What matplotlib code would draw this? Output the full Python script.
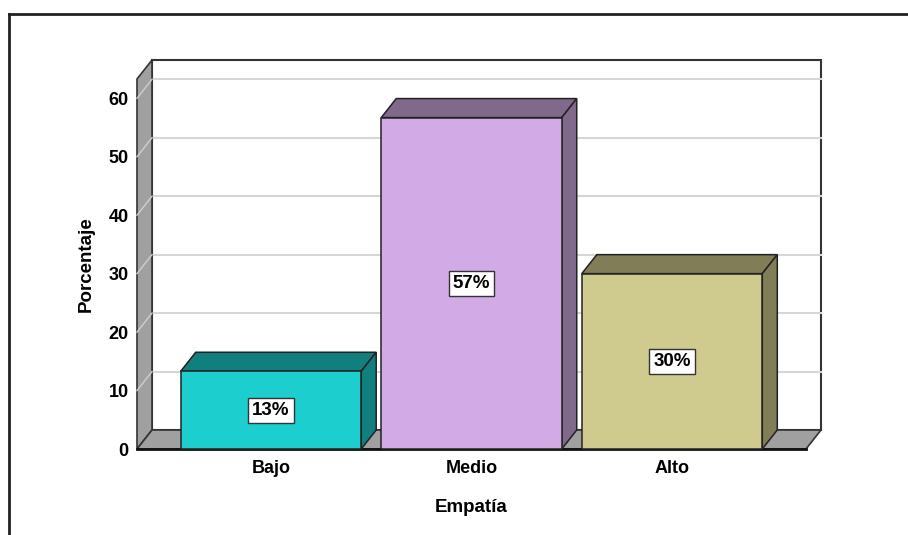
import matplotlib
matplotlib.use("Agg")
import matplotlib.pyplot as plt
from matplotlib.patches import Polygon, Rectangle
from matplotlib.lines import Line2D

plt.rcParams['font.family'] = ['Liberation Sans', 'DejaVu Sans']
plt.rcParams['font.weight'] = 'bold'

# ---- data ----
categories = ['Bajo', 'Medio', 'Alto']
values = [13.3, 56.7, 30.0]
labels = ['13%', '57%', '30%']
yticks = [0, 10, 20, 30, 40, 50, 60]
xlabel = 'Empatía'
ylabel = 'Porcentaje'

front_colors = ['#1ccece', '#d2aae6', '#cfca8e']
dark_colors = ['#127f7f', '#806a8c', '#807d57']
wall_color = '#a0a0a0'
edge = '#222222'

W, H = 908, 535
fig = plt.figure(figsize=(W / 100, H / 100), dpi=100)
ax = fig.add_axes([137 / W, (H - 449) / H, 669 / W, 370 / H])

xmin, xmax = -0.668, 2.668
ymax = 63.3
ax.set_xlim(xmin, xmax)
ax.set_ylim(0, ymax)

# depth offset in data units (approx 15 px right, 19 px up)
dx = 15 / (669 / (xmax - xmin))
dy = 19 / (370 / ymax)

for s in ax.spines.values():
    s.set_visible(False)
ax.patch.set_visible(False)

# back wall
ax.add_patch(Rectangle((xmin + dx, dy), xmax - xmin, ymax, facecolor='white',
                       edgecolor='#333333', lw=1.5, clip_on=False, zorder=1))
# gridlines on back wall
for v in yticks[1:]:
    ax.plot([xmin + dx, xmax + dx], [v + dy, v + dy], color='#d6d6d6', lw=1.5,
            clip_on=False, zorder=1.5)
# left wall
ax.add_patch(Polygon([(xmin, 0), (xmin, ymax), (xmin + dx, ymax + dy), (xmin + dx, dy)],
                     closed=True, facecolor=wall_color, edgecolor='#333333', lw=1.2,
                     clip_on=False, zorder=2))
for v in yticks[1:]:
    ax.plot([xmin, xmin + dx], [v, v + dy], color='#cfcfcf', lw=1.0,
            clip_on=False, zorder=2.5)
# floor
ax.add_patch(Polygon([(xmin, 0), (xmax, 0), (xmax + dx, dy), (xmin + dx, dy)],
                     closed=True, facecolor=wall_color, edgecolor='#333333', lw=1.2,
                     clip_on=False, zorder=2))
ax.plot([xmin, xmax], [0, 0], color='#111111', lw=2, clip_on=False, zorder=2.6)

# bars
bw = 0.9
for i, (v, fc, dc, lab) in enumerate(zip(values, front_colors, dark_colors, labels)):
    x0, x1 = i - bw / 2, i + bw / 2
    ax.add_patch(Polygon([(x0, v), (x1, v), (x1 + dx, v + dy), (x0 + dx, v + dy)],
                         closed=True, facecolor=dc, edgecolor=edge, lw=1.1,
                         clip_on=False, zorder=3))
    ax.add_patch(Polygon([(x1, 0), (x1, v), (x1 + dx, v + dy), (x1 + dx, dy)],
                         closed=True, facecolor=dc, edgecolor=edge, lw=1.1,
                         clip_on=False, zorder=3))
    ax.add_patch(Rectangle((x0, 0), bw, v, facecolor=fc, edgecolor=edge, lw=1.1,
                           clip_on=False, zorder=4))
    ax.text(i, v / 2, lab, ha='center', va='center', fontsize=13.5, fontweight='bold',
            zorder=5,
            bbox=dict(boxstyle='square,pad=0.22', facecolor='white', edgecolor='#333333', lw=1))

ax.set_xticks(range(len(categories)))
ax.set_xticklabels(categories, fontsize=13, fontweight='bold')
ax.set_yticks(yticks)
ax.set_yticklabels([str(t) for t in yticks], fontsize=13, fontweight='bold')
ax.tick_params(axis='both', length=0)
ax.tick_params(axis='y', pad=6)
ax.tick_params(axis='x', pad=8)
ax.set_xlabel(xlabel, fontsize=13.5, fontweight='bold', labelpad=16)
ax.set_ylabel(ylabel, fontsize=13.5, fontweight='bold', labelpad=10)

# outer frame (partially visible)
fig.add_artist(Line2D([8.5 / W, 1.0], [1 - 14 / H, 1 - 14 / H], color='#222222', lw=2,
                      transform=fig.transFigure))
fig.add_artist(Line2D([8.5 / W, 8.5 / W], [0, 1 - 14 / H], color='#222222', lw=2,
                      transform=fig.transFigure))

fig.savefig('out.png', dpi=100)
